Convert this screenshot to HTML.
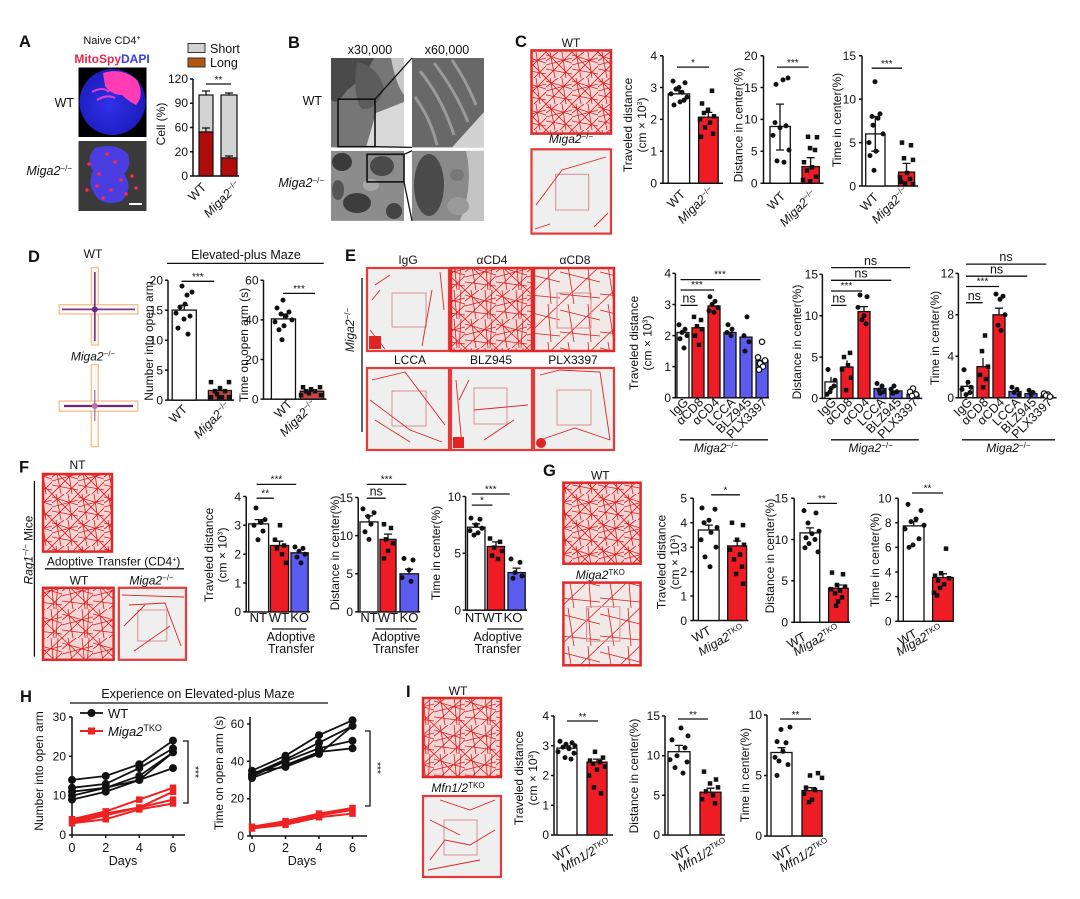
<!DOCTYPE html>
<html><head><meta charset="utf-8"><style>
html,body{margin:0;padding:0;background:#fff}
svg{display:block}
text{font-family:"Liberation Sans",Arial,sans-serif;fill:#111}
.pl{font-size:16.5px;font-weight:bold}
.tk{font-size:12px;text-anchor:end}
.yl{font-size:12px;text-anchor:middle}
.xl{font-size:12.5px;text-anchor:end}
.s{font-size:10px;text-anchor:middle}
.ax{stroke:#111;stroke-width:1.5;fill:none}
.ln{stroke:#111;stroke-width:1.3;fill:none}
.bw{fill:#fff;stroke:#111;stroke-width:1.3}
.br{fill:#ee1c24;stroke:#111;stroke-width:1.3}
.bb{fill:#5b5bef;stroke:#111;stroke-width:1.3}
.dc{stroke:#111;stroke-width:5;stroke-linecap:round;fill:none}
.ds{stroke:#111;stroke-width:4.5;stroke-linecap:square;fill:none}
.oc{fill:#fff;stroke:#111;stroke-width:1.2}
.tr{stroke:#e02424;stroke-width:.9;fill:none}
.sq{fill:none;stroke:#d89090;stroke-width:1}
.sp{fill:#efefef;stroke:#e43a3a;stroke-width:2.2}
.dn{stroke:#e02a2a;stroke-width:2.5}
</style></head><body>
<svg width="1080" height="899" viewBox="0 0 1080 899" xmlns="http://www.w3.org/2000/svg">
<defs>
<pattern id="pd" width="26" height="26" patternUnits="userSpaceOnUse">
<rect width="26" height="26" fill="#f2d6d6"/>
<path d="M0 3L26 11M0 17L26 22M4 0L9 26M16 0L20 26M0 26L26 0M0 9L12 0M14 26L26 14M0 0L26 26M0 13L26 6" stroke="#e01b1b" stroke-width=".8" fill="none"/>
</pattern>
<pattern id="pd2" width="31" height="29" patternUnits="userSpaceOnUse">
<rect width="31" height="29" fill="#f2d6d6"/>
<path d="M0 5L31 14M0 21L31 25M6 0L11 29M20 0L23 29M0 29L31 0M0 11L14 0M16 29L31 15M0 0L31 29M0 16L31 8M27 0L25 29" stroke="#e01b1b" stroke-width=".8" fill="none"/>
</pattern>
<pattern id="pm" width="40" height="38" patternUnits="userSpaceOnUse">
<rect width="40" height="38" fill="#f1e8e8"/>
<path d="M0 6L40 16M8 0L14 38M0 38L40 0M0 28L40 32M28 0L31 38" stroke="#e01b1b" stroke-width=".8" fill="none"/>
</pattern>
<radialGradient id="cellb" cx="0.45" cy="0.55" r="0.6"><stop offset="0" stop-color="#3030e8"/><stop offset="1" stop-color="#1a1ab8"/></radialGradient>
</defs>
<rect width="1080" height="899" fill="#fff"/>

<!-- ===== A ===== -->
<text class="pl" x="19" y="47">A</text>
<text x="112" y="44" font-size="11" text-anchor="middle">Naive CD4<tspan dy="-4" font-size="7">+</tspan></text>
<text x="112" y="63" font-size="12" font-weight="bold" text-anchor="middle"><tspan style="fill:#e8264b">MitoSpy</tspan><tspan style="fill:#3a3ae8">DAPI</tspan></text>
<rect x="78.5" y="67.5" width="68" height="69.5" fill="#000"/>
<circle cx="112.5" cy="102" r="33" fill="url(#cellb)"/>
<path d="M103 73Q122 67 137 80Q145 95 136 105Q128 101 122 95Q111 95 105 86Z" fill="#ff3cb4"/>
<path d="M92 92Q103 86 109 92M97 100Q107 94 115 98" stroke="#e040c8" stroke-width="2" fill="none"/>
<rect x="78.5" y="141" width="68" height="70" fill="#3a3a3a"/>
<path d="M95 148Q116 142 128 154Q132 166 124 174Q134 187 122 201Q103 207 95 195Q87 183 93 171Q85 159 95 148Z" fill="#4a3ee0"/>
<path d="M107 154h.01M115 162h.01M99 174h.01M121 180h.01M111 190h.01M89 164h.01M132 176h.01M103 198h.01M126 194h.01M97 186h.01M136 188h.01M87 190h.01" stroke="#ff2a4a" stroke-width="3.5" stroke-linecap="round" fill="none"/>
<path d="M129 204h13" stroke="#fff" stroke-width="2"/>
<text x="74" y="107" font-size="12.5" text-anchor="end">WT</text>
<text x="72" y="175" font-size="12.5" text-anchor="end"><tspan font-style="italic">Miga2</tspan><tspan dy="-4" font-size="8">−/−</tspan></text>
<rect x="188" y="43.5" width="17" height="9" fill="#d3d3d3" stroke="#333"/>
<text x="210" y="53" font-size="12.5">Short</text>
<rect x="188" y="58" width="17" height="9" fill="#b5560f" stroke="#333"/>
<text x="210" y="67" font-size="12.5">Long</text>
<path class="ax" d="M193 79V176H239M190 79h3M190 103.25h3M190 127.5h3M190 151.75h3M190 176h3"/>
<text class="tk" x="188" y="83">120</text><text class="tk" x="188" y="107">90</text><text class="tk" x="188" y="131.5">60</text><text class="tk" x="188" y="156">20</text><text class="tk" x="188" y="180">0</text>
<rect x="199" y="95" width="14" height="37" fill="#d3d3d3" stroke="#111" stroke-width="1.2"/>
<rect x="199" y="132" width="14" height="44" fill="#b00c0c" stroke="#111" stroke-width="1.2"/>
<rect x="221" y="95" width="16" height="63" fill="#d3d3d3" stroke="#111" stroke-width="1.2"/>
<rect x="221" y="158" width="16" height="18" fill="#b00c0c" stroke="#111" stroke-width="1.2"/>
<path class="ln" d="M206 95V91M202 91h8M206 132V128M202 128h8M229 95V93M225 93h8M229 158V156M225 156h8"/>
<path class="ln" d="M206 84H231"/><text class="s" x="218.5" y="83">**</text>
<text class="yl" font-size="12.5" transform="translate(165,124) rotate(-90)">Cell (%)</text>
<text class="xl" transform="translate(207,188) rotate(-45)">WT</text>
<text class="xl" transform="translate(241,186) rotate(-45)"><tspan font-style="italic">Miga2</tspan><tspan dy="-4" font-size="8">−/−</tspan></text>

<!-- ===== B ===== -->
<text class="pl" x="288" y="48">B</text>
<text x="370" y="54" font-size="12.5" text-anchor="middle">x30,000</text>
<text x="447" y="54" font-size="12.5" text-anchor="middle">x60,000</text>
<rect x="331" y="58" width="73" height="89.4" fill="#767676"/>
<path d="M331 58h43q-10 21 -27 32q-10 16 -16 10z" fill="#4a4a4a"/>
<path d="M357 62q22 5 27 27q-8 22 -22 20q-10 -12 -5 -47z" fill="#5c5c5c"/>
<path d="M376 113L404 102V147.4H366Z" fill="#d9d9d9"/>
<path d="M391 58h13v37q-8 -10 -13 -37z" fill="#c8c8c8"/>
<rect x="412" y="58" width="72" height="89.4" fill="#686868"/>
<path d="M420 71q22 27 34 64M434 63q21 27 34 59M415 97q16 22 22 48M452 60q14 20 24 45" stroke="#9a9a9a" stroke-width="3" fill="none"/>
<path d="M452 147.4L484 112V147.4Z" fill="#d2d2d2"/>
<rect x="331" y="150.9" width="73" height="69.9" fill="#8c8c8c"/>
<ellipse cx="342" cy="162" rx="10" ry="9" fill="#3a3a3a"/>
<ellipse cx="382" cy="166" rx="12" ry="10" fill="#4a4a4a"/>
<ellipse cx="357" cy="203" rx="14" ry="10" fill="#3d3d3d"/>
<ellipse cx="394" cy="211" rx="8" ry="8" fill="#444"/>
<ellipse cx="338" cy="190" rx="6" ry="10" fill="#555"/>
<ellipse cx="371" cy="185" rx="8" ry="6" fill="#a8a8a8"/>
<rect x="412" y="150.9" width="72" height="69.9" fill="#8a8a8a"/>
<ellipse cx="429" cy="185" rx="15" ry="31" fill="#4a4a4a"/>
<path d="M466 150.9H484V220.8H460Q474 185 466 150.9Z" fill="#c4c4c4"/>
<ellipse cx="458" cy="206" rx="11" ry="9" fill="#9a9a9a"/>
<ellipse cx="457" cy="175" rx="7" ry="6" fill="#777"/>
<rect x="338" y="99.2" width="37" height="47.5" fill="none" stroke="#111" stroke-width="1.6"/>
<rect x="367" y="154.3" width="37" height="27.6" fill="none" stroke="#111" stroke-width="1.6"/>
<path class="ln" d="M375 99.2L412 58M375 146.7L412 147.4M404 154.3L412 150.9M404 181.9L412 220.8"/>
<text x="322" y="105" font-size="12.5" text-anchor="end">WT</text>
<text x="324" y="187" font-size="12.5" text-anchor="end"><tspan font-style="italic">Miga2</tspan><tspan dy="-4" font-size="8">−/−</tspan></text>

<!-- ===== C ===== -->
<text class="pl" x="515" y="47">C</text>
<text x="571" y="47" font-size="12" text-anchor="middle">WT</text>
<rect x="531.5" y="50.4" width="79.5" height="83.2" fill="url(#pd)" class="dn"/>
<text x="571" y="143" font-size="12" text-anchor="middle"><tspan font-style="italic">Miga2</tspan><tspan dy="-4" font-size="8">−/−</tspan></text>
<rect class="sp" x="531.5" y="149.3" width="79.5" height="84.3"/>
<rect class="sq" x="555.7" y="174.3" width="33" height="35.7"/>
<path class="tr" d="M536 205L562 170L606 157M535 229L550 224M594 227L608 213"/>

<path class="ax" d="M663 55.7V183.2H723M660 55.7h3M660 87.5h3M660 119.4h3M660 151.3h3M660 183.2h3"/>
<text class="tk" x="657" y="60">4</text><text class="tk" x="657" y="91.8">3</text><text class="tk" x="657" y="123.7">2</text><text class="tk" x="657" y="155.6">1</text><text class="tk" x="657" y="187.5">0</text>
<rect class="bw" x="668.2" y="93.9" width="21.4" height="89.3"/>
<rect class="br" x="698.6" y="117.2" width="19.6" height="66"/>
<path class="ln" d="M679 93.9V90.7M675 90.7h8M708.4 117.2V112.4M704.4 112.4h8"/>
<path class="dc" d="M673 81.1h.01M685 82.7h.01M679 87.5h.01M676 89.1h.01M682 92.3h.01M671 93.9h.01M687 97.1h.01M680 101.9h.01M674 105h.01M684 100.3h.01"/>
<path class="ds" d="M712 90.7h.01M702 103.5h.01M708 109.8h.01M704 113h.01M714 116.2h.01M700 119.4h.01M710 122.6h.01M705 127.4h.01M713 133.8h.01M701 136.9h.01"/>
<path class="ln" d="M677 67.1H709"/><text class="s" x="693" y="66">*</text>
<text class="yl" transform="translate(632,125) rotate(-90)">Traveled distance</text>
<text class="yl" transform="translate(646,125) rotate(-90)">(cm × 10<tspan dy="-4" font-size="7">3</tspan><tspan dy="4">)</tspan></text>
<text class="xl" transform="translate(686,195) rotate(-45)">WT</text>
<text class="xl" transform="translate(715,192) rotate(-45)"><tspan font-style="italic">Miga2</tspan><tspan dy="-4" font-size="8">−/−</tspan></text>

<path class="ax" d="M763.5 55.7V183.2H823.5M760.5 55.7h3M760.5 87.5h3M760.5 119.4h3M760.5 151.3h3M760.5 183.2h3"/>
<text class="tk" x="757.5" y="60">20</text><text class="tk" x="757.5" y="91.8">15</text><text class="tk" x="757.5" y="123.7">10</text><text class="tk" x="757.5" y="155.6">5</text><text class="tk" x="757.5" y="187.5">0</text>
<rect class="bw" x="770" y="126.5" width="20.3" height="56.7"/>
<rect class="br" x="802" y="166.6" width="17.3" height="16.6"/>
<path class="ln" d="M780 104.1V150M776 104.1h8M776 150h8M810.6 166.6V157.7M806.6 157.7h8"/>
<path class="dc" d="M788 78h.01M783 79.9h.01M776 84.4h.01M775 122.6h.01M786 125.8h.01M780 127.7h.01M773 135.4h.01M789 150h.01M777 160.9h.01M784 162.2h.01"/>
<path class="ds" d="M808 136.7h.01M817 137.3h.01M810 148.1h.01M815 150h.01M804 162.2h.01M812 167.3h.01M807 170.5h.01M816 176.8h.01M803 180h.01M810 181.3h.01"/>
<path class="ln" d="M777 67.1H808.6"/><text class="s" x="792.8" y="66">***</text>
<text class="yl" transform="translate(742.5,125) rotate(-90)">Distance in center(%)</text>
<text class="xl" transform="translate(786,197) rotate(-45)">WT</text>
<text class="xl" transform="translate(817,195) rotate(-45)"><tspan font-style="italic">Miga2</tspan><tspan dy="-4" font-size="8">−/−</tspan></text>

<path class="ax" d="M862 55.7V186H918M859 55.7h3M859 99.1h3M859 142.6h3M859 186h3"/>
<text class="tk" x="856" y="60">15</text><text class="tk" x="856" y="103.4">10</text><text class="tk" x="856" y="146.9">5</text><text class="tk" x="856" y="190.3">0</text>
<rect class="bw" x="865.7" y="133.9" width="19.3" height="52.1"/>
<rect class="br" x="898.5" y="172.1" width="16.1" height="13.9"/>
<path class="ln" d="M875.3 116.5V151.2M871.3 116.5h8M871.3 151.2h8M906.5 172.1V163.4M902.5 163.4h8"/>
<path class="dc" d="M875 81.7h.01M880 113.9h.01M872 116.5h.01M878 118.2h.01M873 125.2h.01M883 133.9h.01M869 142.6h.01M876 151.2h.01M870 155.6h.01M874 170.4h.01"/>
<path class="ds" d="M902 142.6h.01M911 145.2h.01M904 158.2h.01M913 159.9h.01M907 173h.01M900 177.3h.01M910 179h.01M905 183.4h.01M913 184.3h.01M901 181.7h.01"/>
<path class="ln" d="M871.7 68.2H902"/><text class="s" x="886.8" y="67">***</text>
<text class="yl" transform="translate(841,120) rotate(-90)">Time in center(%)</text>
<text class="xl" transform="translate(879,198) rotate(-45)">WT</text>
<text class="xl" transform="translate(909,192) rotate(-45)"><tspan font-style="italic">Miga2</tspan><tspan dy="-4" font-size="8">−/−</tspan></text>

<!-- ===== D ===== -->
<text class="pl" x="28" y="262">D</text>
<text x="93" y="258" font-size="12" text-anchor="middle">WT</text>
<rect x="91.3" y="267.6" width="7" height="77.4" fill="#fffaf3" stroke="#f2c08f" stroke-width="1.3"/>
<rect x="59.2" y="304.7" width="78.6" height="9.3" fill="#fffaf3" stroke="#f2c08f" stroke-width="1.3"/>
<path d="M94.8 272V341M62 309.4H135" stroke="#7a3a90" stroke-width="1.8" fill="none"/>
<circle cx="94.8" cy="309.4" r="3" fill="#6a2a80"/>
<text x="93" y="360.5" font-size="12" text-anchor="middle"><tspan font-style="italic">Miga2</tspan><tspan dy="-4" font-size="8">−/−</tspan></text>
<rect x="91.3" y="364.7" width="7" height="82" fill="#fffaf3" stroke="#f2c08f" stroke-width="1.3"/>
<rect x="59.2" y="401" width="78.6" height="10.2" fill="#fffaf3" stroke="#f2c08f" stroke-width="1.3"/>
<path d="M64 406H133" stroke="#6a2a80" stroke-width="2.2" fill="none"/>
<path d="M94.8 390V421" stroke="#9a6ab0" stroke-width="1.2" fill="none"/>
<circle cx="94.8" cy="406" r="3" fill="#c070a0"/>

<text x="246" y="259" font-size="12.5" text-anchor="middle">Elevated-plus Maze</text>
<path class="ln" d="M167 263.4H323.7"/>
<path class="ax" d="M168 280.3V400.1H234.2M165 280.3h3M165 310.2h3M165 340.2h3M165 370.1h3M165 400.1h3"/>
<text class="tk" x="163" y="284.6">20</text><text class="tk" x="163" y="314.5">15</text><text class="tk" x="163" y="344.5">10</text><text class="tk" x="163" y="374.4">5</text><text class="tk" x="163" y="404.4">0</text>
<rect class="bw" x="172.2" y="310.1" width="24.1" height="90"/>
<rect x="208.4" y="390.5" width="23" height="9.6" fill="#c84848" stroke="#111" stroke-width="1.3"/>
<path class="ln" d="M184.2 310.1V305.3M180.2 305.3h8"/>
<path class="dc" d="M182 286.1h.01M192 292.1h.01M187 295.1h.01M185 304.1h.01M180 307.1h.01M176 313.1h.01M190 316.1h.01M184 319.1h.01M178 328.1h.01M188 334.1h.01"/>
<path class="ds" d="M211 382.1h.01M229 382.1h.01M220 388.1h.01M215 391.1h.01M225 391.1h.01M217 394.1h.01M222 397.1h.01M211 397.1h.01M229 397.1h.01M219 397.1h.01"/>
<path class="ln" d="M181.5 281.3H214.2"/><text class="s" x="197.8" y="280">***</text>
<text class="yl" transform="translate(153,341) rotate(-90)">Number into open arm</text>
<text class="xl" transform="translate(188,410) rotate(-45)">WT</text>
<text class="xl" transform="translate(231,407) rotate(-45)"><tspan font-style="italic">Miga2</tspan><tspan dy="-4" font-size="8">−/−</tspan></text>

<path class="ax" d="M263.5 280.3V399.1H326.5M260.5 280.3h3M260.5 319.9h3M260.5 359.5h3M260.5 399.1h3"/>
<text class="tk" x="258.5" y="284.6">60</text><text class="tk" x="258.5" y="324.2">40</text><text class="tk" x="258.5" y="363.8">20</text><text class="tk" x="258.5" y="403.4">0</text>
<rect class="bw" x="271.4" y="318.9" width="24.1" height="80.2"/>
<rect x="300.3" y="391.2" width="23.4" height="7.9" fill="#c84848" stroke="#111" stroke-width="1.3"/>
<path class="ln" d="M283.5 318.9V314M279.5 314h8"/>
<path class="dc" d="M283 300.1h.01M277 308h.01M289 312h.01M281 314h.01M286 316h.01M292 319.9h.01M275 321.9h.01M284 325.8h.01M279 329.8h.01M282 339.7h.01"/>
<path class="ds" d="M303 387.2h.01M320 387.2h.01M311 389.2h.01M306 391.2h.01M315 391.2h.01M309 393.2h.01M321 395.1h.01M301 395.1h.01"/>
<path class="ln" d="M283 293.4H315.1"/><text class="s" x="299" y="292">***</text>
<text class="yl" transform="translate(248,345) rotate(-90)">Time on open arm (s)</text>
<text class="xl" transform="translate(293,405) rotate(-45)">WT</text>
<text class="xl" transform="translate(317,405) rotate(-45)"><tspan font-style="italic">Miga2</tspan><tspan dy="-4" font-size="8">−/−</tspan></text>

<!-- ===== E ===== -->
<text class="pl" x="345" y="261">E</text>
<path class="ln" d="M362 278V432"/>
<text class="yl" font-size="12" transform="translate(354,330) rotate(-90)"><tspan font-style="italic">Miga2</tspan><tspan dy="-4" font-size="8">−/−</tspan></text>
<text x="408" y="264" font-size="12" text-anchor="middle">IgG</text>
<text x="492" y="264" font-size="12" text-anchor="middle">αCD4</text>
<text x="575" y="264" font-size="12" text-anchor="middle">αCD8</text>
<text x="410" y="364" font-size="12" text-anchor="middle">LCCA</text>
<text x="491" y="364" font-size="12" text-anchor="middle">BLZ945</text>
<text x="573" y="364" font-size="12" text-anchor="middle">PLX3397</text>
<rect class="sp" x="367" y="268" width="82" height="83"/>
<rect class="sq" x="392" y="293" width="34" height="34"/>
<path class="tr" d="M375 285L390 275M432 290L422 346M370 330L385 349M372 300L380 290M440 272L444 310"/>
<rect x="369" y="336" width="12" height="13" fill="#e02424"/>
<rect x="451" y="268" width="81" height="83" fill="url(#pd2)" class="dn"/>
<rect x="534" y="268" width="80" height="83" fill="url(#pm)" class="dn"/>
<rect class="sq" x="557" y="293" width="34" height="35"/>
<rect class="sp" x="367" y="368" width="82" height="82"/>
<rect class="sq" x="392" y="391" width="34" height="35"/>
<path class="tr" d="M372 380L405 372L445 425M370 400L410 430L442 442M375 420L410 442"/>
<rect class="sp" x="451" y="368" width="81" height="82"/>
<rect class="sq" x="474" y="388" width="33" height="36"/>
<path class="tr" d="M459 400L469 380M474 410L528 405M484 440L514 420M456 380L462 446"/>
<rect x="453" y="437" width="11" height="11" fill="#e02424"/>
<rect class="sp" x="534" y="368" width="80" height="82"/>
<rect class="sq" x="557" y="390" width="34" height="35"/>
<path class="tr" d="M540 375L560 370L600 372L610 440M540 440L575 428L610 440"/>
<circle cx="541" cy="443" r="5" fill="#e02424"/>

<path class="ax" d="M675.4 273.4V397.7H769M672.4 273.4h3M672.4 304.5h3M672.4 335.6h3M672.4 366.6h3M672.4 397.7h3"/>
<text class="tk" x="671" y="277.7">4</text><text class="tk" x="671" y="308.8">3</text><text class="tk" x="671" y="339.9">2</text><text class="tk" x="671" y="370.9">1</text><text class="tk" x="671" y="402">0</text>
<rect class="bw" x="677" y="332.5" width="12" height="65.2"/>
<rect class="br" x="692" y="327.8" width="12" height="69.9"/>
<rect class="br" x="708" y="306" width="12" height="91.7"/>
<rect class="bb" x="724" y="332.5" width="12" height="65.2"/>
<rect class="bb" x="740" y="337.1" width="12" height="60.6"/>
<rect class="bb" x="756" y="360.4" width="12" height="37.3"/>
<path class="dc" d="M679 324.7h.01M685 329.3h.01M682 332.5h.01M687 335.6h.01M680 338.7h.01M684 348h.01M710 296.7h.01M715 301.4h.01M712 304.5h.01M718 307.6h.01M709 310.7h.01M714 312.3h.01M728 324.7h.01M732 329.3h.01M727 332.5h.01M731 335.6h.01M747 316.9h.01M744 335.6h.01M749 341.8h.01M745 351.1h.01"/>
<path class="ds" d="M694 316.9h.01M701 320h.01M697 326.2h.01M702 329.3h.01M695 335.6h.01M699 344.9h.01"/>
<circle class="oc" cx="762" cy="341.8" r="2.7"/><circle class="oc" cx="758" cy="357.3" r="2.7"/><circle class="oc" cx="765" cy="360.4" r="2.7"/><circle class="oc" cx="760" cy="363.5" r="2.7"/><circle class="oc" cx="763" cy="366.6" r="2.7"/><circle class="oc" cx="759" cy="369.7" r="2.7"/>
<path class="ln" d="M680.5 305.4H697.7M680.5 290H714M680.5 279.6H760.4"/>
<text x="689" y="302.5" font-size="12.5" text-anchor="middle">ns</text><text class="s" x="697" y="288">***</text><text class="s" x="720" y="277.5">***</text>
<text class="yl" transform="translate(638,343) rotate(-90)">Traveled distance</text>
<text class="yl" transform="translate(651.5,343) rotate(-90)">(cm × 10<tspan dy="-4" font-size="7">3</tspan><tspan dy="4">)</tspan></text>
<text class="xl" font-size="11.5" transform="translate(689,403) rotate(-45)">IgG</text>
<text class="xl" font-size="11.5" transform="translate(704,403) rotate(-45)">αCD8</text>
<text class="xl" font-size="11.5" transform="translate(720,403) rotate(-45)">αCD4</text>
<text class="xl" font-size="11.5" transform="translate(736,403) rotate(-45)">LCCA</text>
<text class="xl" font-size="11.5" transform="translate(752,403) rotate(-45)">BLZ945</text>
<text class="xl" font-size="11.5" transform="translate(768,403) rotate(-45)">PLX3397</text>
<path class="ln" d="M679.5 439.8H768"/>
<text x="716" y="452" font-size="12" text-anchor="middle"><tspan font-style="italic">Miga2</tspan><tspan dy="-4" font-size="8">−/−</tspan></text>

<path class="ax" d="M822.4 274.4V398.4H922.3M819.4 274.4h3M819.4 315.7h3M819.4 357.1h3M819.4 398.4h3"/>
<text class="tk" x="818" y="278.7">15</text><text class="tk" x="818" y="320">10</text><text class="tk" x="818" y="361.4">5</text><text class="tk" x="818" y="402.7">0</text>
<rect class="bw" x="825" y="381.9" width="12" height="16.5"/>
<rect class="br" x="841" y="367" width="12" height="31.4"/>
<rect class="br" x="858" y="311.6" width="12" height="86.8"/>
<rect class="bb" x="874" y="388.5" width="12" height="9.9"/>
<rect class="bb" x="890" y="391" width="12" height="7.4"/>
<rect class="bb" x="907" y="394.3" width="12" height="4.1"/>
<path class="ln" d="M831 381.9V376.9M847 367V360.4M864 311.6V306.6M860 306.6h8"/>
<path class="dc" d="M828 369.5h.01M834 386h.01M831 388.5h.01M827 394.3h.01M835 380.2h.01M830 391.8h.01M860 295h.01M867 296.7h.01M858 307.4h.01M864 315.7h.01M862 319.8h.01M866 323.9h.01M877 383.5h.01M882 386h.01M879 390.1h.01M884 391.8h.01M880 393.4h.01M894 386h.01M891 389.3h.01M897 391.8h.01M893 393.4h.01"/>
<path class="ds" d="M850 352.9h.01M844 357h.01M848 365.3h.01M842 369.5h.01M851 377.7h.01M846 390.1h.01"/>
<circle class="oc" cx="913" cy="388.5" r="2.7"/><circle class="oc" cx="910" cy="391.8" r="2.7"/><circle class="oc" cx="916" cy="394.3" r="2.7"/><circle class="oc" cx="912" cy="395.9" r="2.7"/>
<path class="ln" d="M831 305.4H846.5M831 291H862M831 280.3H891.3M831 267.6H910.2"/>
<text x="838.8" y="302.5" font-size="12.5" text-anchor="middle">ns</text><text class="s" x="846.5" y="289">***</text><text x="861" y="277.5" font-size="12.5" text-anchor="middle">ns</text><text x="870.6" y="264.8" font-size="12.5" text-anchor="middle">ns</text>
<text class="yl" transform="translate(801,342) rotate(-90)">Distance in center(%)</text>
<text class="xl" font-size="11.5" transform="translate(837,403) rotate(-45)">IgG</text>
<text class="xl" font-size="11.5" transform="translate(853,403) rotate(-45)">αCD8</text>
<text class="xl" font-size="11.5" transform="translate(870,403) rotate(-45)">αCD4</text>
<text class="xl" font-size="11.5" transform="translate(886,403) rotate(-45)">LCCA</text>
<text class="xl" font-size="11.5" transform="translate(902,403) rotate(-45)">BLZ945</text>
<text class="xl" font-size="11.5" transform="translate(919,403) rotate(-45)">PLX3397</text>
<path class="ln" d="M831 439.8H918.8"/>
<text x="870.6" y="452" font-size="12" text-anchor="middle"><tspan font-style="italic">Miga2</tspan><tspan dy="-4" font-size="8">−/−</tspan></text>

<path class="ax" d="M958.4 273.4V397.7H1056.6M955.4 273.4h3M955.4 314.8h3M955.4 356.3h3M955.4 397.7h3"/>
<text class="tk" x="954" y="277.7">12</text><text class="tk" x="954" y="319.1">8</text><text class="tk" x="954" y="360.6">4</text><text class="tk" x="954" y="402">0</text>
<rect class="bw" x="961" y="386.3" width="12" height="11.4"/>
<rect class="br" x="977" y="366.6" width="12" height="31.1"/>
<rect class="br" x="993" y="314.8" width="12" height="82.9"/>
<rect class="bb" x="1009" y="391.5" width="12" height="6.2"/>
<rect class="bb" x="1025" y="393.6" width="12" height="4.1"/>
<rect class="bb" x="1041" y="396.1" width="12" height="1.6"/>
<path class="ln" d="M967 386.3V380.3M983 366.6V358M999 314.8V308.2M995 308.2h8"/>
<path class="dc" d="M964 369.7h.01M968 382.2h.01M962 389.4h.01M970 392.5h.01M966 394.6h.01M971 387.3h.01M996 294.1h.01M1003 296.2h.01M1000 299.3h.01M1005 314.8h.01M998 325.2h.01M1001 330.4h.01M1012 387.3h.01M1017 389.4h.01M1014 392.5h.01M1019 394.6h.01M1029 390.4h.01M1033 392.5h.01M1031 394.6h.01"/>
<path class="ds" d="M985 335.5h.01M982 351.1h.01M988 366.6h.01M980 374.9h.01M986 379.1h.01M983 387.3h.01"/>
<circle class="oc" cx="1044" cy="393.6" r="2.7"/><circle class="oc" cx="1048" cy="394.6" r="2.7"/><circle class="oc" cx="1046" cy="395.6" r="2.7"/><circle class="oc" cx="1050" cy="396.7" r="2.7"/>
<path class="ln" d="M966 302.7H982.6M966 286.5H999M966 276.2H1027.3M966 264.1H1046.3"/>
<text x="974.3" y="299.8" font-size="12.5" text-anchor="middle">ns</text><text class="s" x="982.5" y="284.5">***</text><text x="996.6" y="273.3" font-size="12.5" text-anchor="middle">ns</text><text x="1006" y="261.2" font-size="12.5" text-anchor="middle">ns</text>
<text class="yl" transform="translate(939,338) rotate(-90)">Time in center(%)</text>
<text class="xl" font-size="11.5" transform="translate(973,403) rotate(-45)">IgG</text>
<text class="xl" font-size="11.5" transform="translate(989,403) rotate(-45)">αCD8</text>
<text class="xl" font-size="11.5" transform="translate(1005,403) rotate(-45)">αCD4</text>
<text class="xl" font-size="11.5" transform="translate(1021,403) rotate(-45)">LCCA</text>
<text class="xl" font-size="11.5" transform="translate(1037,403) rotate(-45)">BLZ945</text>
<text class="xl" font-size="11.5" transform="translate(1053,403) rotate(-45)">PLX3397</text>
<path class="ln" d="M962 439.8H1055"/>
<text x="1008.4" y="452" font-size="12" text-anchor="middle"><tspan font-style="italic">Miga2</tspan><tspan dy="-4" font-size="8">−/−</tspan></text>

<!-- ===== F ===== -->
<text class="pl" x="19" y="472.4">F</text>
<path class="ln" d="M34.4 481V656.6"/>
<text class="yl" font-size="12.5" transform="translate(32.5,550) rotate(-90)"><tspan font-style="italic">Rag1</tspan><tspan dy="-4" font-size="8">−/−</tspan><tspan dy="4"> Mice</tspan></text>
<text x="77.5" y="469" font-size="12" text-anchor="middle">NT</text>
<rect x="43" y="474" width="69" height="77.6" fill="url(#pd)" class="dn"/>
<text x="113.6" y="565.4" font-size="12" text-anchor="middle">Adoptive Transfer (CD4<tspan dy="-4" font-size="7">+</tspan><tspan dy="4">)</tspan></text>
<path class="ln" d="M44.8 568.8H184"/>
<text x="79" y="584.3" font-size="12" text-anchor="middle">WT</text>
<text x="151.5" y="584.3" font-size="12" text-anchor="middle"><tspan font-style="italic">Miga2</tspan><tspan dy="-4" font-size="8">−/−</tspan></text>
<rect x="43" y="587.8" width="70.6" height="72" fill="url(#pd2)" class="dn"/>
<rect class="sp" x="118.8" y="587.8" width="67.2" height="72" stroke-width="2.8"/>
<rect class="sq" x="137.8" y="610" width="29" height="31"/>
<path class="tr" d="M129 605L165 603L181 646M124 626L145 605M134 651L170 626M122 595L184 597"/>

<path class="ax" d="M246.2 496.5V611.9H310M243.2 496.5h3M243.2 525.3h3M243.2 554.2h3M243.2 583h3M243.2 611.9h3"/>
<text class="tk" x="241" y="500.8">4</text><text class="tk" x="241" y="529.6">3</text><text class="tk" x="241" y="558.5">2</text><text class="tk" x="241" y="587.3">1</text><text class="tk" x="241" y="616.2">0</text>
<rect class="bw" x="248.7" y="523.9" width="19.9" height="88"/>
<rect class="br" x="270.4" y="545.5" width="18.2" height="66.4"/>
<rect class="bb" x="291" y="552.8" width="17.2" height="59.1"/>
<path class="ln" d="M258.6 523.9V519.6M254.6 519.6h8M279.5 545.5V541.2M275.5 541.2h8M299.6 552.8V549.9"/>
<path class="dc" d="M256 508h.01M265 519.6h.01M261 522.5h.01M254 525.3h.01M263 531.1h.01M258 539.8h.01M295 547h.01M303 548.4h.01M299 551.3h.01M305 554.2h.01M297 557.1h.01M301 562.9h.01"/>
<path class="ds" d="M280 525.3h.01M275 539.8h.01M284 545.5h.01M277 548.4h.01M282 554.2h.01M286 562.9h.01"/>
<path class="ln" d="M256.6 498.2H273.8M256.6 484.4H296.2"/><text class="s" x="265.2" y="496.5">**</text><text class="s" x="276.4" y="482.7">***</text>
<text class="yl" transform="translate(213,555) rotate(-90)">Traveled distance</text>
<text class="yl" transform="translate(226.5,555) rotate(-90)">(cm × 10<tspan dy="-4" font-size="7">3</tspan><tspan dy="4">)</tspan></text>
<text x="258.3" y="622.2" font-size="13" text-anchor="middle">NT</text><text x="279" y="622.2" font-size="13" text-anchor="middle">WT</text><text x="299.6" y="622.2" font-size="13" text-anchor="middle">KO</text>
<path class="ln" d="M272 629H306.5"/>
<text x="291" y="641" font-size="12.5" text-anchor="middle">Adoptive</text><text x="291" y="653.2" font-size="12.5" text-anchor="middle">Transfer</text>

<path class="ax" d="M358.2 497.5V611.9H420.2M355.2 497.5h3M355.2 535.6h3M355.2 573.8h3M355.2 611.9h3"/>
<text class="tk" x="353" y="501.8">15</text><text class="tk" x="353" y="539.9">10</text><text class="tk" x="353" y="578.1">5</text><text class="tk" x="353" y="616.2">0</text>
<rect class="bw" x="360" y="521.9" width="18" height="90"/>
<rect class="br" x="380" y="539.4" width="16" height="72.5"/>
<rect class="bb" x="400" y="573.8" width="18.5" height="38.1"/>
<path class="ln" d="M369 521.9V515.8M365 515.8h8M388 539.4V534.1M384 534.1h8M409 573.8V569.2M405 569.2h8"/>
<path class="dc" d="M363 508.9h.01M374 512.7h.01M368 516.5h.01M371 524.2h.01M365 531.8h.01M369 539.4h.01M404 558.5h.01M413 560h.01M409 570h.01M402 577.6h.01M411 581.4h.01"/>
<path class="ds" d="M384 524.2h.01M391 528h.01M386 539.4h.01M393 543.2h.01M388 550.9h.01M384 558.5h.01"/>
<path class="ln" d="M366.8 498.2H385.7M366.8 484.4H406.4"/><text x="376.2" y="495.5" font-size="12.5" text-anchor="middle">ns</text><text class="s" x="386.6" y="482.7">***</text>
<text class="yl" transform="translate(339,553) rotate(-90)">Distance in center(%)</text>
<text x="369" y="622.2" font-size="13" text-anchor="middle">NT</text><text x="388" y="622.2" font-size="13" text-anchor="middle">WT</text><text x="409" y="622.2" font-size="13" text-anchor="middle">KO</text>
<path class="ln" d="M375.4 629H416.7"/>
<text x="396" y="641" font-size="12.5" text-anchor="middle">Adoptive</text><text x="396" y="653.2" font-size="12.5" text-anchor="middle">Transfer</text>

<path class="ax" d="M465.6 496.5V610.1H527M462.6 496.5h3M462.6 553.3h3M462.6 610.1h3"/>
<text class="tk" x="461" y="500.8">10</text><text class="tk" x="461" y="557.6">5</text><text class="tk" x="461" y="614.4">0</text>
<rect class="bw" x="467.5" y="527.2" width="17.5" height="82.9"/>
<rect class="br" x="487.3" y="546.5" width="17.2" height="63.6"/>
<rect class="bb" x="508" y="572.6" width="17.2" height="37.5"/>
<path class="ln" d="M476 527.2V523.8M472 523.8h8M496 546.5V541.9M492 541.9h8M516.6 572.6V568.1M512.6 568.1h8"/>
<path class="dc" d="M471 518.1h.01M480 519.2h.01M476 524.9h.01M482 528.3h.01M470 530.6h.01M478 532.9h.01M474 535.1h.01M511 559h.01M520 562.4h.01M515 572.6h.01M522 576h.01M513 578.3h.01"/>
<path class="ds" d="M490 538.5h.01M500 541.9h.01M494 547.6h.01M502 551h.01M492 555.6h.01M498 559h.01"/>
<path class="ln" d="M471.8 505.1H492.5M471.8 494H509.7"/><text class="s" x="482" y="503.4">*</text><text class="s" x="490.7" y="492.3">***</text>
<text class="yl" transform="translate(440,553) rotate(-90)">Time in center(%)</text>
<text x="473.6" y="622.2" font-size="13" text-anchor="middle">NT</text><text x="492.5" y="622.2" font-size="13" text-anchor="middle">WT</text><text x="513" y="622.2" font-size="13" text-anchor="middle">KO</text>
<path class="ln" d="M487.3 629H523.5"/>
<text x="497.7" y="641" font-size="12.5" text-anchor="middle">Adoptive</text><text x="497.7" y="653.2" font-size="12.5" text-anchor="middle">Transfer</text>

<!-- ===== G ===== -->
<text class="pl" x="543" y="475.8">G</text>
<text x="600.3" y="479.3" font-size="12" text-anchor="middle">WT</text>
<rect x="563.4" y="482.7" width="77.2" height="81" fill="url(#pd)" class="dn"/>
<text x="600.3" y="579" font-size="12" text-anchor="middle"><tspan font-style="italic">Miga2</tspan><tspan dy="-4" font-size="8">TKO</tspan></text>
<rect x="563.4" y="582.6" width="77.2" height="82.7" fill="url(#pm)" class="dn"/>
<rect class="sq" x="586.5" y="606.7" width="33.4" height="34.4"/>

<path class="ax" d="M693.3 498.2V620.5H748.4M690.3 498.2h3M690.3 522.7h3M690.3 547.1h3M690.3 571.6h3M690.3 596h3M690.3 620.5h3"/>
<text class="tk" x="687" y="502.5">5</text><text class="tk" x="687" y="527">4</text><text class="tk" x="687" y="551.4">3</text><text class="tk" x="687" y="575.9">2</text><text class="tk" x="687" y="600.3">1</text><text class="tk" x="687" y="624.8">0</text>
<rect class="bw" x="698.4" y="530" width="20.7" height="90.5"/>
<rect class="br" x="727.7" y="545.9" width="18.9" height="74.6"/>
<path class="ln" d="M708.8 530V525.1M704.8 525.1h8M737.2 545.9V541M733.2 541h8"/>
<path class="dc" d="M702 508h.01M715 509.2h.01M709 520.2h.01M704 522.7h.01M717 527.5h.01M711 532.4h.01M701 539.8h.01M716 547.1h.01M705 556.9h.01M710 566.7h.01"/>
<path class="ds" d="M732 522.7h.01M743 525.1h.01M737 539.8h.01M744 544.7h.01M730 549.6h.01M740 554.5h.01M734 559.4h.01M742 566.7h.01M736 574h.01M743 583.8h.01"/>
<path class="ln" d="M711.2 494.8H739.8"/><text class="s" x="725.5" y="493.5">*</text>
<text class="yl" transform="translate(665.5,562) rotate(-90)">Traveled distance</text>
<text class="yl" transform="translate(679,562) rotate(-90)">(cm × 10<tspan dy="-4" font-size="7">3</tspan><tspan dy="4">)</tspan></text>
<text class="xl" transform="translate(712,633) rotate(-30)">WT</text>
<text class="xl" transform="translate(745,631) rotate(-30)"><tspan font-style="italic">Miga2</tspan><tspan dy="-4" font-size="8">TKO</tspan></text>

<path class="ax" d="M794.2 498.2V622.2H850M791.2 498.2h3M791.2 539.5h3M791.2 580.9h3M791.2 622.2h3"/>
<text class="tk" x="788" y="502.5">15</text><text class="tk" x="788" y="543.8">10</text><text class="tk" x="788" y="585.2">5</text><text class="tk" x="788" y="626.5">0</text>
<rect class="bw" x="800" y="532.9" width="19.7" height="89.3"/>
<rect class="br" x="828.6" y="588.3" width="19.6" height="33.9"/>
<path class="ln" d="M809.9 532.9V527.9M805.9 527.9h8M838.4 588.3V585M834.4 585h8"/>
<path class="dc" d="M804 510.6h.01M816 513h.01M808 523h.01M819 531.2h.01M812 533.7h.01M806 537.8h.01M815 539.5h.01M809 543.6h.01M805 547.8h.01M818 551.9h.01"/>
<path class="ds" d="M832 572.6h.01M843 574.2h.01M837 585h.01M845 586.6h.01M831 589.1h.01M840 590.8h.01M835 593.3h.01M842 597.4h.01M838 601.5h.01M836 605.7h.01"/>
<path class="ln" d="M806.9 503.4H836.9"/><text class="s" x="821.9" y="502">**</text>
<text class="yl" transform="translate(774,556) rotate(-90)">Distance in center(%)</text>
<text class="xl" transform="translate(807,639) rotate(-30)">WT</text>
<text class="xl" transform="translate(840,631) rotate(-30)"><tspan font-style="italic">Miga2</tspan><tspan dy="-4" font-size="8">TKO</tspan></text>

<path class="ax" d="M898.2 498.2V621.2H953.3M895.2 498.2h3M895.2 522.8h3M895.2 547.4h3M895.2 572h3M895.2 596.6h3M895.2 621.2h3"/>
<text class="tk" x="891.5" y="502.5">10</text><text class="tk" x="891.5" y="527.1">8</text><text class="tk" x="891.5" y="551.7">6</text><text class="tk" x="891.5" y="576.3">4</text><text class="tk" x="891.5" y="600.9">2</text><text class="tk" x="891.5" y="625.5">0</text>
<rect class="bw" x="903.3" y="525.9" width="20.7" height="95.3"/>
<rect class="br" x="932.6" y="577.5" width="20.7" height="43.7"/>
<path class="ln" d="M913.7 525.9V521.6M909.7 521.6h8M943 577.5V573.8M939 573.8h8"/>
<path class="dc" d="M908 504.4h.01M921 510.5h.01M916 519.1h.01M911 521.6h.01M924 525.3h.01M905 529h.01M919 538.8h.01M913 545h.01M909 547.4h.01"/>
<path class="ds" d="M946 548.6h.01M941 573.2h.01M935 575.7h.01M949 578.2h.01M938 580.6h.01M944 584.3h.01M940 588h.01M934 592.9h.01M937 595.4h.01"/>
<path class="ln" d="M912 493H943"/><text class="s" x="927.5" y="491.6">**</text>
<text class="yl" transform="translate(879,560) rotate(-90)">Time in center(%)</text>
<text class="xl" transform="translate(918,636) rotate(-30)">WT</text>
<text class="xl" transform="translate(943,631) rotate(-30)"><tspan font-style="italic">Miga2</tspan><tspan dy="-4" font-size="8">TKO</tspan></text>

<!-- ===== H ===== -->
<text class="pl" x="20" y="702">H</text>
<text x="198" y="698" font-size="12.5" text-anchor="middle">Experience on Elevated-plus Maze</text>
<path class="ln" d="M70 703H328"/>
<path class="ax" d="M72 717V835H185M69 717h3M69 756.3h3M69 795.7h3M69 835h3M72 835v3M105.7 835v3M139.3 835v3M173 835v3"/>
<text class="tk" font-size="12.5" x="66" y="721">30</text><text class="tk" font-size="12.5" x="66" y="760.3">20</text><text class="tk" font-size="12.5" x="66" y="799.7">10</text><text class="tk" font-size="12.5" x="66" y="839">0</text>
<text x="72" y="852" font-size="12.5" text-anchor="middle">0</text><text x="105.7" y="852" font-size="12.5" text-anchor="middle">2</text><text x="139.3" y="852" font-size="12.5" text-anchor="middle">4</text><text x="173" y="852" font-size="12.5" text-anchor="middle">6</text>
<text x="123" y="865" font-size="12.5" text-anchor="middle">Days</text>
<path d="M72 779.9L105.7 776L139.3 764.2L173 740.6M72 787.8L105.7 783.9L139.3 768.1L173 748.5M72 791.7L105.7 787.8L139.3 776L173 752.4M72 799.6L105.7 791.7L139.3 780L173 768.1M72 795.7L105.7 787.8L139.3 780L173 752.4" stroke="#111" stroke-width="1.8" fill="none"/>
<path d="M72 779.9h.01M105.7 776h.01M139.3 764.2h.01M173 740.6h.01M72 787.8h.01M105.7 783.9h.01M139.3 768.1h.01M173 748.5h.01M72 791.7h.01M105.7 787.8h.01M139.3 776h.01M173 752.4h.01M72 799.6h.01M105.7 791.7h.01M139.3 780h.01M173 768.1h.01M72 795.7h.01" stroke="#111" stroke-width="8" stroke-linecap="round" fill="none"/>
<path d="M72 819.3L105.7 811.4L139.3 799.6L173 787.8M72 821.2L105.7 813.4L139.3 807.5L173 791.7M72 823.2L105.7 815.3L139.3 807.5L173 799.6M72 823.2L105.7 819.3L139.3 809.4L173 803.5" stroke="#ee2222" stroke-width="2" fill="none"/>
<path d="M72 819.3h.01M105.7 811.4h.01M139.3 799.6h.01M173 787.8h.01M72 821.2h.01M105.7 813.4h.01M139.3 807.5h.01M173 791.7h.01M72 823.2h.01M105.7 815.3h.01M173 799.6h.01M105.7 819.3h.01M139.3 809.4h.01M173 803.5h.01" stroke="#ee2222" stroke-width="6.5" stroke-linecap="square" fill="none"/>
<path d="M80 713H103" stroke="#111" stroke-width="1.8"/><path d="M91.5 713h.01" stroke="#111" stroke-width="8" stroke-linecap="round"/>
<text x="108" y="718" font-size="13">WT</text>
<path d="M80 731H103" stroke="#ee2222" stroke-width="2"/><path d="M91.5 731h.01" stroke="#ee2222" stroke-width="7" stroke-linecap="square"/>
<text x="108" y="736" font-size="13"><tspan font-style="italic">Miga2</tspan><tspan dy="-5" font-size="9">TKO</tspan></text>
<path class="ln" d="M183 741H188V803H183"/>
<text class="s" transform="translate(192,772) rotate(90)">***</text>
<text class="yl" font-size="12.5" transform="translate(43,771) rotate(-90)">Number into open arm</text>

<path class="ax" d="M250 717V836H367M247 724h3M247 761.3h3M247 798.7h3M247 836h3M252 836v3M285.5 836v3M319 836v3M352.5 836v3"/>
<text class="tk" font-size="12.5" x="244" y="728">60</text><text class="tk" font-size="12.5" x="244" y="765.3">40</text><text class="tk" font-size="12.5" x="244" y="802.7">20</text><text class="tk" font-size="12.5" x="244" y="840">0</text>
<text x="252" y="852" font-size="12.5" text-anchor="middle">0</text><text x="285.5" y="852" font-size="12.5" text-anchor="middle">2</text><text x="319" y="852" font-size="12.5" text-anchor="middle">4</text><text x="352.5" y="852" font-size="12.5" text-anchor="middle">6</text>
<text x="302" y="865" font-size="12.5" text-anchor="middle">Days</text>
<path d="M252 770.7L285.5 755.7L319 735.2L352.5 720.3M252 774.4L285.5 759.5L319 742.7L352.5 725.9M252 776.3L285.5 761.3L319 748.3L352.5 740.8M252 778.1L285.5 765.1L319 752L352.5 748.3M252 772.5L285.5 766.9L319 753.9L352.5 725.9" stroke="#111" stroke-width="1.8" fill="none"/>
<path d="M252 770.7h.01M285.5 755.7h.01M319 735.2h.01M352.5 720.3h.01M252 774.4h.01M285.5 759.5h.01M319 742.7h.01M352.5 725.9h.01M252 776.3h.01M285.5 761.3h.01M319 748.3h.01M352.5 740.8h.01M252 778.1h.01M285.5 765.1h.01M319 752h.01M352.5 748.3h.01M285.5 766.9h.01M319 753.9h.01" stroke="#111" stroke-width="8" stroke-linecap="round" fill="none"/>
<path d="M252 826.7L285.5 821.1L319 813.6L352.5 808M252 828.5L285.5 822.9L319 815.5L352.5 809.9M252 828.5L285.5 824.8L319 817.3L352.5 813.6M252 826.7L285.5 822.9L319 817.3L352.5 813.6" stroke="#ee2222" stroke-width="2" fill="none"/>
<path d="M252 826.7h.01M285.5 821.1h.01M319 813.6h.01M352.5 808h.01M252 828.5h.01M285.5 822.9h.01M319 815.5h.01M352.5 809.9h.01M285.5 824.8h.01M319 817.3h.01M352.5 813.6h.01" stroke="#ee2222" stroke-width="6.5" stroke-linecap="square" fill="none"/>
<path class="ln" d="M365 731H370V806H365"/>
<text class="s" transform="translate(374,768) rotate(90)">***</text>
<text class="yl" font-size="12.5" transform="translate(223,773) rotate(-90)">Time on open arm (s)</text>

<!-- ===== I ===== -->
<text class="pl" x="406" y="697">I</text>
<text x="458" y="695" font-size="12" text-anchor="middle">WT</text>
<rect x="423" y="698" width="78" height="79" fill="url(#pd2)" class="dn"/>
<text x="458" y="792" font-size="12" text-anchor="middle"><tspan font-style="italic">Mfn1/2</tspan><tspan dy="-4" font-size="8">TKO</tspan></text>
<rect class="sp" x="423" y="796" width="78" height="81"/>
<rect class="sq" x="444" y="820" width="33" height="35"/>
<path class="tr" d="M430 860L445 840L470 845L495 830M440 800L470 810L495 800M430 820L460 835M428 870L480 860"/>

<path class="ax" d="M554 716V835H613M551 716h3M551 745.75h3M551 775.5h3M551 805.25h3M551 835h3"/>
<text class="tk" x="549" y="720">4</text><text class="tk" x="549" y="749.75">3</text><text class="tk" x="549" y="779.5">2</text><text class="tk" x="549" y="809.25">1</text><text class="tk" x="549" y="839">0</text>
<rect class="bw" x="557" y="748.1" width="20" height="86.9"/>
<rect class="br" x="587" y="762.1" width="20" height="72.9"/>
<path class="ln" d="M567 748.1V745.75M563 745.75h8M597 762.1V759.1M593 759.1h8"/>
<path class="dc" d="M560 741.3h.01M572 742.8h.01M566 744.3h.01M575 745.75h.01M563 747.2h.01M569 748.7h.01M558 751.7h.01M574 753.2h.01M565 757.6h.01M571 759.1h.01"/>
<path class="ds" d="M595 751.7h.01M603 757.6h.01M590 760.6h.01M600 762.1h.01M593 763.6h.01M605 766.6h.01M597 769.6h.01M589 775.5h.01M594 787.4h.01M601 793.4h.01"/>
<path class="ln" d="M567 721H598"/><text class="s" x="582.5" y="720">**</text>
<text class="yl" transform="translate(523,778) rotate(-90)">Traveled distance</text>
<text class="yl" transform="translate(537,778) rotate(-90)">(cm × 10<tspan dy="-4" font-size="7">3</tspan><tspan dy="4">)</tspan></text>
<text class="xl" transform="translate(573,852) rotate(-30)">WT</text>
<text class="xl" transform="translate(611,845) rotate(-30)"><tspan font-style="italic">Mfn1/2</tspan><tspan dy="-4" font-size="8">TKO</tspan></text>

<path class="ax" d="M665 716V835H725M662 716h3M662 755.7h3M662 795.3h3M662 835h3"/>
<text class="tk" x="660" y="720">15</text><text class="tk" x="660" y="759.7">10</text><text class="tk" x="660" y="799.3">5</text><text class="tk" x="660" y="839">0</text>
<rect class="bw" x="668" y="751.7" width="22" height="83.3"/>
<rect class="br" x="700" y="792.2" width="21" height="42.8"/>
<path class="ln" d="M679 751.7V745.4M675 745.4h8M710.5 792.2V788.2M706.5 788.2h8"/>
<path class="dc" d="M681 728h.01M688 735.9h.01M672 739.8h.01M685 747.8h.01M677 755.7h.01M670 759.7h.01M687 762h.01M675 767.6h.01M683 773.1h.01"/>
<path class="ds" d="M704 771.6h.01M716 779.5h.01M710 783.5h.01M718 787.4h.01M706 791.4h.01M713 795.3h.01M702 799.3h.01M715 803.3h.01"/>
<path class="ln" d="M678 719H708"/><text class="s" x="693" y="718">**</text>
<text class="yl" transform="translate(638,776) rotate(-90)">Distance in center(%)</text>
<text class="xl" transform="translate(692,852) rotate(-30)">WT</text>
<text class="xl" transform="translate(728,845) rotate(-30)"><tspan font-style="italic">Mfn1/2</tspan><tspan dy="-4" font-size="8">TKO</tspan></text>

<path class="ax" d="M767 715V836H823M764 715h3M764 775.5h3M764 836h3"/>
<text class="tk" x="762" y="719">10</text><text class="tk" x="762" y="779.5">5</text><text class="tk" x="762" y="840">0</text>
<rect class="bw" x="771" y="752.5" width="21" height="83.5"/>
<rect class="br" x="802" y="790.6" width="20" height="45.4"/>
<path class="ln" d="M781.5 752.5V747.7M777.5 747.7h8M812 790.6V787.6M808 787.6h8"/>
<path class="dc" d="M790 727.1h.01M781 729.5h.01M777 741.6h.01M786 742.8h.01M783 751.3h.01M775 757.4h.01M779 761h.01M788 764.6h.01M777 775.5h.01"/>
<path class="ds" d="M818 773.1h.01M810 775.5h.01M822 777.9h.01M806 787.6h.01M815 790h.01M804 793.6h.01M812 799.7h.01M809 802.1h.01"/>
<path class="ln" d="M780 719H811"/><text class="s" x="795.5" y="718">**</text>
<text class="yl" transform="translate(749,775) rotate(-90)">Time in center(%)</text>
<text class="xl" transform="translate(793,852) rotate(-30)">WT</text>
<text class="xl" transform="translate(830,845) rotate(-30)"><tspan font-style="italic">Mfn1/2</tspan><tspan dy="-4" font-size="8">TKO</tspan></text>
</svg>
</body></html>
